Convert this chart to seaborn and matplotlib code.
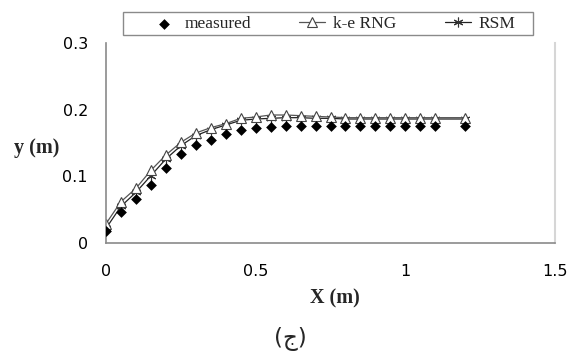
import matplotlib
matplotlib.use("Agg")
import matplotlib.pyplot as plt
from matplotlib.patches import Rectangle
import seaborn as sns
import numpy as np

# Distance along the channel (m)
x_pos = [0.00, 0.05, 0.10, 0.15, 0.20, 0.25, 0.30, 0.35, 0.40, 0.45, 0.50, 0.55,
         0.60, 0.65, 0.70, 0.75, 0.80, 0.85, 0.90, 0.95, 1.00, 1.05, 1.10, 1.20]

# Water surface elevation y (m)
measured = [0.018, 0.046, 0.066, 0.087, 0.112, 0.134, 0.147, 0.155, 0.163, 0.170, 0.172, 0.174,
            0.175, 0.175, 0.175, 0.175, 0.175, 0.175, 0.175, 0.175, 0.175, 0.175, 0.175, 0.175]
ke_rng = [0.029, 0.062, 0.082, 0.109, 0.132, 0.151, 0.165, 0.173, 0.179, 0.187, 0.189, 0.192,
          0.192, 0.191, 0.190, 0.189, 0.188, 0.188, 0.188, 0.188, 0.188, 0.188, 0.188, 0.188]
rsm = [0.022, 0.055, 0.076, 0.101, 0.126, 0.146, 0.161, 0.170, 0.177, 0.184, 0.186, 0.187,
       0.188, 0.188, 0.187, 0.187, 0.186, 0.186, 0.186, 0.186, 0.186, 0.186, 0.186, 0.186]

x_ticks = [0, 0.5, 1, 1.5]
x_tick_labels = ["0", "0.5", "1", "1.5"]
y_ticks = [0, 0.1, 0.2, 0.3]
y_tick_labels = ["0", "0.1", "0.2", "0.3"]

sns.set_style("white")
plt.rcParams["font.family"] = ["DejaVu Sans"]

W, H = 568, 352
fig = plt.figure(figsize=(W / 100, H / 100), dpi=100)
ax = fig.add_axes([106 / W, 1 - 243 / H, 449 / W, 200 / H])

sns.lineplot(x=x_pos, y=rsm, ax=ax, color="#222222", linewidth=0.9,
             marker=(6, 2, 0), markersize=7, markeredgewidth=0.8,
             markeredgecolor="#333333", label="RSM", sort=False)
sns.lineplot(x=x_pos, y=ke_rng, ax=ax, color="#555555", linewidth=0.9,
             marker="^", markersize=7, markerfacecolor="white",
             markeredgecolor="#444444", markeredgewidth=0.8,
             label="k-e RNG", sort=False)
sns.scatterplot(x=x_pos, y=measured, ax=ax, marker="D", s=30, color="black",
                edgecolor="black", linewidth=0, label="measured", zorder=5)

ax.set_xlim(0, 1.5)
ax.set_ylim(0, 0.3)
ax.set_xticks(x_ticks)
ax.set_xticklabels(x_tick_labels)
ax.set_yticks(y_ticks)
ax.set_yticklabels(y_tick_labels)

ax.spines["top"].set_visible(False)
for side in ["left", "bottom"]:
    ax.spines[side].set_color("#8a8a8a")
    ax.spines[side].set_linewidth(1.2)
ax.spines["right"].set_color("#d6d6d6")
ax.spines["right"].set_linewidth(1.5)

ax.tick_params(axis="both", direction="out", length=6, width=1.1, color="#8a8a8a",
               labelsize=11.5, labelcolor="black")
ax.tick_params(axis="x", pad=9)
ax.tick_params(axis="y", pad=7, right=False)

serif_bold = dict(family=["Liberation Serif", "DejaVu Serif"], weight="bold", size=14.5)
ax.set_xlabel("X (m)", fontdict=serif_bold)
ax.xaxis.set_label_coords(0.509, -0.275)
ax.xaxis.label.set_va("center")
ax.set_ylabel("y (m)", fontdict=serif_bold, rotation=0)
ax.yaxis.set_label_coords(-0.154, 0.475)
ax.yaxis.label.set_va("center")
ax.yaxis.label.set_ha("center")

# Legend: entries spread across the top, framed by a thin grey box
handles, labels = ax.get_legend_handles_labels()
order = [labels.index("measured"), labels.index("k-e RNG"), labels.index("RSM")]
ax.get_legend().remove()
leg = fig.legend([handles[i] for i in order], [labels[i] for i in order],
                 loc="lower left",
                 bbox_to_anchor=(148 / W, 1 - 35 / H, 370 / W, 23 / H),
                 mode="expand", ncol=3, frameon=False,
                 borderpad=0.15, handlelength=1.5, handletextpad=0.45,
                 borderaxespad=0,
                 prop=dict(family=["Liberation Serif", "DejaVu Serif"], size=12.5))
fig.patches.append(Rectangle((123 / W, 1 - 35 / H), 410 / W, 23 / H,
                             transform=fig.transFigure, fill=False,
                             edgecolor="#8a8a8a", linewidth=1.0))

fig.text(290 / W, 1 - 351 / H, "(ج)", ha="center", va="bottom",
         fontsize=16.5, family=["DejaVu Sans"])

fig.savefig("out.png", dpi=100, facecolor="white")
